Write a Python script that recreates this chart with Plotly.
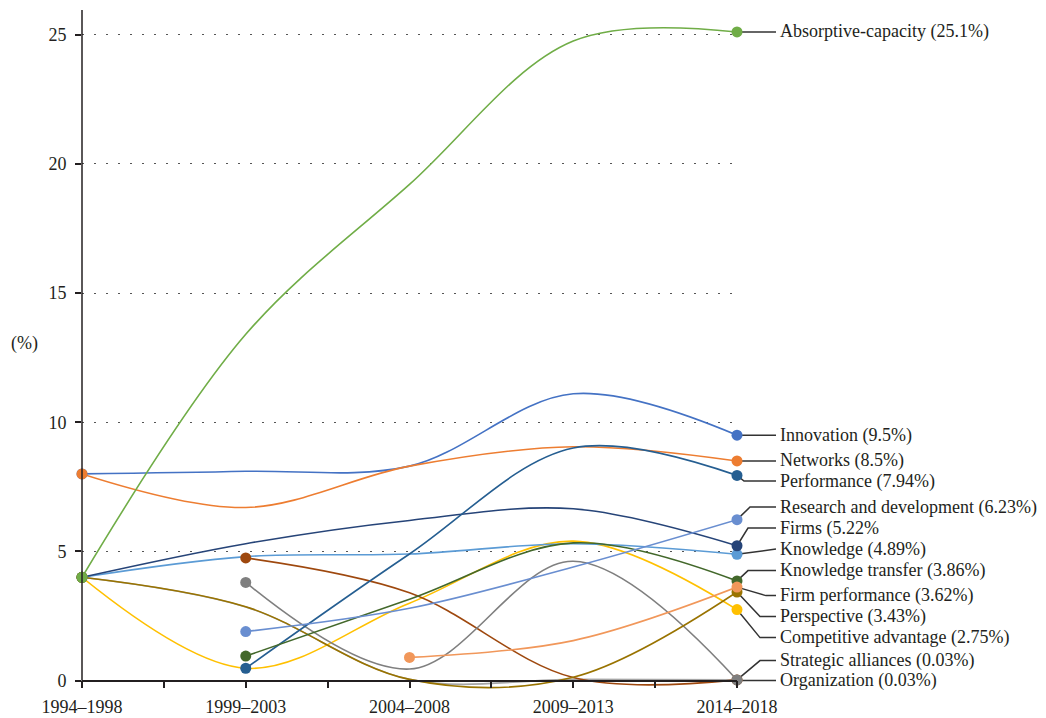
import plotly.graph_objects as go

# ---------------- data ----------------
periods = ["1994–1998", "1999–2003", "2004–2008", "2009–2013", "2014–2018"]

innovation = [8.0, 8.1, 8.3, 11.1, 9.5]
networks = [8.0, 6.7, 8.3, 9.05, 8.5]
unlabelled_gray = [4.0, 2.85, 0.05, 0.05, 0.03]
competitive_advantage = [4.0, 0.48, 3.0, 5.4, 2.75]
knowledge = [4.0, 4.8, 4.9, 5.3, 4.89]
absorptive_capacity = [4.0, 13.4, 19.2, 24.75, 25.1]
firms = [4.0, 5.3, 6.2, 6.65, 5.22]
organization = [None, 4.75, 3.4, 0.12, 0.03]
strategic_alliances = [None, 3.8, 0.45, 4.62, 0.03]
perspective = [4.0, 2.86, 0.05, 0.13, 3.43]
performance = [None, 0.48, 4.9, 9.0, 7.94]
knowledge_transfer = [None, 0.95, 3.15, 5.33, 3.86]
research_and_development = [None, 1.9, 2.8, 4.4, 6.23]
firm_performance = [None, None, 0.9, 1.55, 3.62]

# (label, values, colour) in drawing order
series = [
    ("Innovation (9.5%)", innovation, "#4472C4"),
    ("Networks (8.5%)", networks, "#ED7D31"),
    (None, unlabelled_gray, "#A5A5A5"),
    ("Competitive advantage (2.75%)", competitive_advantage, "#FFC000"),
    ("Knowledge (4.89%)", knowledge, "#5B9BD5"),
    ("Absorptive-capacity (25.1%)", absorptive_capacity, "#70AD47"),
    ("Firms (5.22%", firms, "#264478"),
    ("Organization (0.03%)", organization, "#9E480E"),
    ("Strategic alliances (0.03%)", strategic_alliances, "#7F7F7F"),
    ("Perspective (3.43%)", perspective, "#997300"),
    ("Performance (7.94%)", performance, "#255E91"),
    ("Knowledge transfer (3.86%)", knowledge_transfer, "#43682B"),
    ("Research and development (6.23%)", research_and_development, "#698ED0"),
    ("Firm performance (3.62%)", firm_performance, "#F1975A"),
]

# ---------------- layout geometry ----------------
W, H = 1046, 718
M_L, M_T = 82, 10
PLOT_W = 655
YMIN, YMAX = -0.4, 25.95
PX_PER_UNIT = 25.84
PLOT_H = (YMAX - YMIN) * PX_PER_UNIT
M_R = W - M_L - PLOT_W
M_B = H - M_T - PLOT_H
XMAX = len(periods) - 1
FONT = "Liberation Serif"
FS = 18
INK = "#231F20"


def xp(px):  # screen pixel -> paper x
    return (px - M_L) / PLOT_W


def yp_px(py):  # screen pixel -> paper y
    return 1 - (py - M_T) / PLOT_H


def yp_val(v):
    return (v - YMIN) / (YMAX - YMIN)


def py_val(v):  # value -> screen pixel y
    return M_T + (YMAX - v) * PX_PER_UNIT


# label placement: label -> (label pixel y, elbow pixel x)
label_layout = {
    "Absorptive-capacity (25.1%)": (None, 737),
    "Innovation (9.5%)": (None, 737),
    "Networks (8.5%)": (None, 737),
    "Performance (7.94%)": (481, 744),
    "Research and development (6.23%)": (507, 750),
    "Firms (5.22%": (528, 748),
    "Knowledge (4.89%)": (549, 776),
    "Knowledge transfer (3.86%)": (570.5, 748),
    "Firm performance (3.62%)": (595.5, 766),
    "Perspective (3.43%)": (616.5, 760),
    "Competitive advantage (2.75%)": (637.5, 760),
    "Strategic alliances (0.03%)": (660.5, 760),
    "Organization (0.03%)": (680.5, 737),
}
LABEL_X = 778
LEADER_END = 776

xs = list(range(len(periods)))
fig = go.Figure()

for name, vals, col in series:
    fig.add_trace(go.Scatter(
        x=xs, y=vals, mode="lines", connectgaps=False,
        line=dict(color=col, width=1.6, shape="spline", smoothing=1),
        hoverinfo="skip", showlegend=False))

marker_order = [s for s in series if s[2] != "#70AD47"] + [s for s in series if s[2] == "#70AD47"]
for name, vals, col in marker_order:
    idx = [i for i, v in enumerate(vals) if v is not None]
    ends = [idx[0], idx[-1]]
    fig.add_trace(go.Scatter(
        x=[xs[i] for i in ends], y=[vals[i] for i in ends], mode="markers",
        marker=dict(size=11, color=col), cliponaxis=False,
        hoverinfo="skip", showlegend=False))

shapes = []
annotations = []
for name, vals, col in series:
    if name is None:
        continue
    last = vals[-1]
    mk_py = py_val(last)
    lab_py, elbow = label_layout[name]
    if lab_py is None:
        lab_py = mk_py
    x0, y0 = 1.0, yp_px(mk_py)
    x1, y1 = xp(elbow), yp_px(lab_py)
    x2 = xp(LEADER_END)
    shapes.append(dict(
        type="path", xref="paper", yref="paper",
        path=f"M {x0},{y0} L {x1},{y1} L {x2},{y1}",
        line=dict(color="#333333", width=1.5), layer="below"))
    annotations.append(dict(
        xref="paper", yref="paper", x=xp(LABEL_X), y=y1,
        text=name, showarrow=False, xanchor="left", yanchor="middle",
        font=dict(family=FONT, size=FS, color=INK)))

# y axis line (from 0 to top)
shapes.append(dict(type="line", xref="paper", yref="paper",
                   x0=0, x1=0, y0=yp_val(0), y1=1,
                   line=dict(color=INK, width=1.5), layer="above"))

annotations.append(dict(
    xref="paper", yref="paper", x=xp(24), y=yp_px(343),
    text="(%)", showarrow=False, xanchor="center", yanchor="middle",
    font=dict(family=FONT, size=FS, color=INK)))

tickvals_x = [i / 2 for i in range(2 * XMAX + 1)]
ticktext_x = [periods[int(v)] if v == int(v) else "" for v in tickvals_x]

fig.update_layout(
    width=W, height=H,
    margin=dict(l=M_L, r=M_R, t=M_T, b=M_B, autoexpand=False),
    paper_bgcolor="white", plot_bgcolor="white",
    font=dict(family=FONT, size=FS, color=INK),
    shapes=shapes, annotations=annotations,
    xaxis=dict(
        range=[0, XMAX], anchor="free", position=yp_val(0),
        tickvals=tickvals_x, ticktext=ticktext_x,
        showline=True, linecolor=INK, linewidth=1.5,
        ticks="outside", ticklen=7, tickwidth=1.5, tickcolor=INK,
        showgrid=False, zeroline=False, ticklabelstandoff=3,
        tickfont=dict(family=FONT, size=FS, color=INK),
    ),
    yaxis=dict(
        range=[YMIN, YMAX], tickvals=[0, 5, 10, 15, 20, 25],
        showline=False, zeroline=False,
        ticks="outside", ticklen=6, tickwidth=1.5, tickcolor=INK,
        showgrid=True, gridcolor="#555555", gridwidth=1.3,
        griddash="1.5px,10.5px", ticklabelstandoff=5,
        tickfont=dict(family=FONT, size=FS, color=INK),
    ),
)

# remove the page's default 8px body margin so the 1046x718 figure fills the window
fig.write_html("out.html",
               config={"displayModeBar": False},
               post_script="document.body.style.margin='0px';document.body.style.overflow='hidden';")
